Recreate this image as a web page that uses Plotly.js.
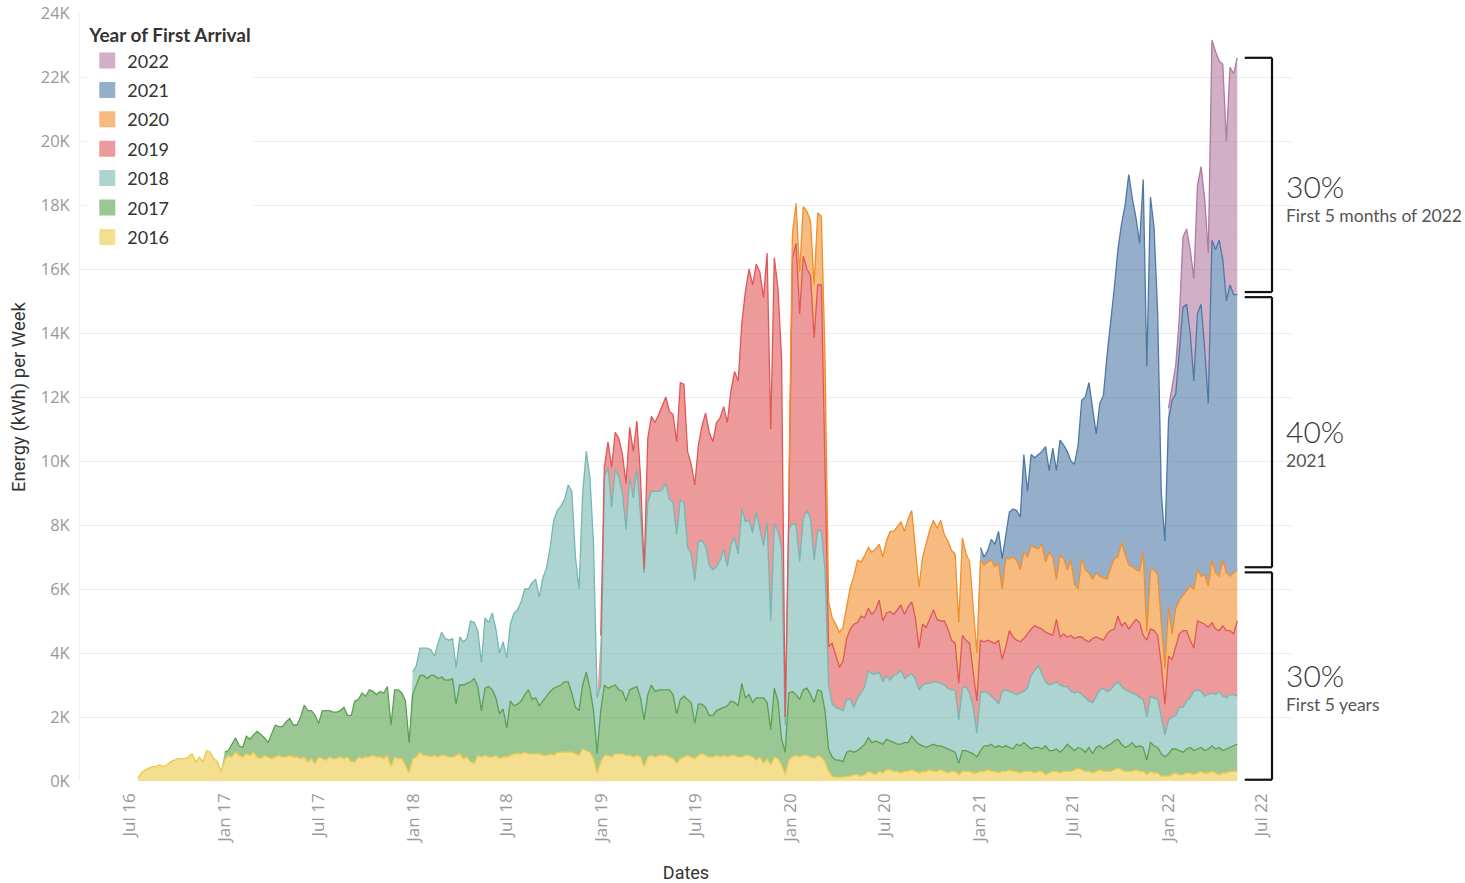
<!DOCTYPE html>
<html>
<head>
<meta charset="utf-8">
<script src="https://cdn.plot.ly/plotly-3.0.1.min.js"></script>
<style>
html,body{margin:0;padding:0;background:#fff;}
#chart{width:1465px;height:883px;}
</style>
</head>
<body>
<div id="chart"></div>
<script>
// ---- Data (weekly energy, thousands of kWh) ----
const firstWeek = '2016-07-17';
const weekCount = 305;
const seriesNames = ['2016', '2017', '2018', '2019', '2020', '2021', '2022'];
const startWeeks = [0, 24, 76, 128, 180, 233, 285];

const y2016 = [
  0.1,0.25,0.35,0.4,0.45,0.45,0.5,0.45,0.5,0.6,0.65,0.7,0.7,0.7,0.75,0.85,0.6,0.75,0.6,0.95,0.9,0.7,0.6,0.3,
  0.65,0.8,0.75,0.9,0.8,0.75,0.85,0.8,0.9,0.75, 0.7,0.8,0.75,0.7,0.75,0.8,0.75,0.75,0.8,0.75,
  0.75,0.7,0.75,0.6,0.7,0.55,0.75,0.7,0.65,0.75, 0.7,0.7,0.75,0.7,0.75,0.6,0.6,0.75,0.7,0.75,
  0.75,0.8,0.75,0.75,0.7,0.8,0.45,0.75,0.7,0.7, 0.5,0.25,
  0.7,0.75,0.9,0.8,0.8,0.75,0.8,0.75,0.8,0.8, 0.75,0.75,0.8,0.85,0.7,0.75,0.6,0.55,0.8,0.75,
  0.8,0.75,0.75,0.8,0.7,0.75,0.75,0.8,0.85,0.85, 0.85,0.9,0.85,0.85,0.85,0.85,0.8,0.8,0.85,0.8,
  0.9,0.9,0.9,0.9,0.9,0.85,0.8,1.0,0.95,0.9, 0.7,0.25,
  0.6,0.8,0.8,0.75,0.85,0.85,0.85,0.8,0.8,0.75, 0.8,0.75,0.45,0.75,0.8,0.75,0.8,0.8,0.8,0.75,
  0.7,0.55,0.7,0.75,0.8,0.75,0.7,0.8,0.85,0.8, 0.75,0.75,0.8,0.75,0.8,0.75,0.8,0.8,0.75,0.75,
  0.8,0.8,0.75,0.65,0.75,0.55,0.7,0.5,0.75,0.7, 0.5,0.2,
  0.65,0.75,0.8,0.75,0.8,0.8,0.75,0.7,0.8,0.75, 0.6,0.3,0.15,0.12,0.12,0.12,0.15,0.15,0.2,0.2,
  0.15,0.2,0.3,0.25,0.2,0.3,0.25,0.35,0.35,0.3, 0.3,0.25,0.3,0.3,0.35,0.3,0.25,0.3,0.3,0.35,
  0.3,0.3,0.35,0.3,0.25,0.3,0.3,0.2,0.3,0.3, 0.3,0.25,0.25,
  0.3,0.3,0.35,0.3,0.3,0.25,0.3,0.3,0.35,0.3, 0.3,0.25,0.3,0.3,0.3,0.25,0.3,0.3,0.2,0.25,
  0.3,0.3,0.25,0.3,0.3,0.3,0.35,0.4,0.35,0.3, 0.3,0.25,0.3,0.35,0.3,0.3,0.3,0.35,0.4,0.35,
  0.3,0.3,0.3,0.35,0.3,0.3,0.2,0.3,0.25,0.25, 0.15,0.15,
  0.15,0.2,0.25,0.2,0.2,0.25,0.25,0.2,0.25,0.3, 0.25,0.25,0.3,0.25,0.2,0.25,0.25,0.3,0.3,0.3
];
const y2017 = [
  0.25,0.15,0.4,0.45,0.3,0.3,0.55,0.5,0.55,0.8, 0.75,0.55,0.45,0.8,1.0,0.9,0.95,1.1,1.15,1.0,
  1.0,1.3,1.62,1.6,1.5,1.5,1.05,1.5,1.55,1.45, 1.45,1.45,1.45,1.6,1.3,1.45,1.9,1.8,2.05,1.9,
  2.1,2.0,1.95,2.05,2.05,2.15,1.3,2.1,2.15,2.05, 2.0,0.95,
  2.0,2.25,2.4,2.5,2.4,2.55,2.5,2.45,2.45,2.35, 2.4,2.45,1.6,2.15,2.3,2.3,2.5,2.65,2.15,1.45,
  2.1,2.2,2.1,1.8,1.4,1.5,0.9,1.7,1.5,1.55, 1.65,1.8,2.0,1.7,1.75,1.5,1.7,1.85,1.95,2.1,
  2.05,2.1,2.2,2.2,1.85,1.45,1.4,2.0,2.45,2.0, 1.5,0.6,
  1.6,2.2,2.1,2.2,2.15,2.0,1.95,1.7,2.05,2.15, 2.15,1.85,1.45,1.95,2.2,2.05,2.05,2.05,2.05,2.1,
  2.0,1.55,1.85,1.9,1.75,1.7,1.1,1.6,1.55,1.5, 1.3,1.3,1.4,1.5,1.5,1.6,1.7,1.65,1.6,2.3,
  1.8,1.9,1.7,1.95,1.85,2.05,1.75,1.1,2.15,1.8, 0.8,0.7,
  2.1,2.05,1.9,1.8,2.05,2.1,1.95,1.75,2.05,2.05, 1.6,0.7,0.6,0.53,0.53,0.48,0.75,0.8,0.7,0.75,
  0.9,0.95,1.05,0.95,1.05,0.9,0.9,0.95,0.9,0.9, 0.85,0.9,0.9,0.9,1.05,0.95,0.9,0.8,0.75,0.75,
  0.85,0.8,0.75,0.75,0.75,0.65,0.6,0.35,0.65,0.65, 0.6,0.6,0.5,
  0.65,0.8,0.75,0.85,0.75,0.85,0.75,0.8,0.7,0.7, 0.85,0.85,0.9,0.8,0.7,0.8,0.75,0.7,0.9,0.7,
  0.65,0.7,0.65,0.7,0.85,0.75,0.6,0.65,0.65,0.6, 0.75,0.6,0.75,0.75,0.7,0.8,0.85,0.9,0.9,0.8,
  0.75,0.8,0.9,0.7,0.8,0.75,0.45,0.9,0.85,0.8, 0.7,0.6,
  0.7,0.8,0.75,0.75,0.7,0.75,0.8,0.75,0.75,0.75, 0.7,0.75,0.8,0.75,0.85,0.7,0.75,0.75,0.8,0.85
];
const y2018 = [
  0.7,0.6,0.85,0.85,0.95,0.8,0.6,1.1,1.4,1.3, 1.25,1.25,1.15,1.5,1.35,1.4,1.9,1.75,1.75,1.5,
  2.2,2.0,2.4,2.15,1.9,2.1,2.2,2.4,2.9,2.95, 3.1,3.3,3.15,3.65,3.7,3.4,3.85,4.0,4.5,5.25,
  5.5,5.6,5.7,6.15,6.3,4.7,3.8,6.0,6.9,6.6, 5.2,1.75,
  0.8,6.5,6.9,5.6,6.75,6.65,6.2,5.35,6.65,5.95, 6.8,5.7,4.6,6.0,6.05,6.25,6.2,6.25,6.45,5.95,
  6.0,5.6,6.25,6.05,4.75,4.65,4.45,5.1,5.1,5.05, 4.7,4.55,4.5,4.65,4.95,4.35,4.9,5.15,4.75,5.45,
  5.5,5.45,5.3,5.8,5.3,4.75,5.65,3.4,5.15,5.3, 6.0,0.85,
  5.1,5.25,5.3,4.3,5.35,5.55,5.5,4.45,5.0,5.0, 4.4,2.0,1.65,1.65,1.6,1.6,1.65,1.6,1.4,1.65,
  1.7,1.8,2.1,2.15,2.1,2.2,1.95,2.0,1.9,2.1, 2.2,2.3,2.0,2.1,1.95,1.95,1.7,1.9,2.0,1.95,
  1.95,2.0,1.95,1.95,1.9,1.9,1.95,1.35,1.95,2.0, 1.85,1.45,0.75,
  1.8,1.7,1.65,1.5,1.5,1.3,1.75,1.75,1.75,1.75, 1.55,1.65,1.6,1.8,2.3,2.4,2.55,2.35,2.0,2.05,
  2.1,2.1,2.1,1.95,1.8,1.75,1.8,1.75,1.7,1.7, 1.45,1.6,1.6,1.75,1.9,1.7,1.7,1.75,1.8,1.8,
  1.8,1.7,1.55,1.65,1.5,1.5,1.35,1.45,1.5,1.5, 1.15,0.7,
  1.05,1.0,1.05,1.35,1.4,1.5,1.55,1.85,1.85,1.75, 1.7,1.7,1.65,1.7,1.75,1.7,1.6,1.65,1.6,1.5
];
const y2019 = [
  1.55,0.3,0.8,1.25,1.15,1.2,1.2,1.45,1.55,1.45, 1.5,1.2,0.1,2.0,2.35,2.15,2.4,2.6,2.7,2.75,
  2.75,2.9,3.65,3.7,3.0,2.8,3.0,3.0,3.6,4.15, 4.15,4.0,4.5,4.45,4.45,4.5,4.8,5.2,5.4,5.8,
  7.2,7.85,7.75,7.75,8.0,7.75,8.4,6.0,8.3,7.6, 5.9,0.25,
  0.65,8.3,8.8,7.75,8.2,7.55,7.6,6.95,7.65,7.7, 3.7,1.2,1.9,1.6,1.3,1.55,1.9,2.2,2.6,2.35,
  2.4,2.15,1.95,1.85,2.0,2.25,1.9,1.95,2.15,1.9, 2.0,2.05,2.0,2.15,2.25,1.9,1.3,1.9,1.75,2.05,
  2.25,1.95,1.95,2.0,1.85,1.55,1.45,1.15,1.65,1.45, 1.55,1.1,1.0,
  1.65,1.55,1.65,1.7,1.75,2.0,1.0,1.35,1.9,1.75, 1.7,1.6,1.65,1.7,1.45,1.4,1.2,1.4,1.55,1.6,
  1.5,1.95,1.5,1.65,1.55,1.75,1.7,1.7,1.8,1.8, 1.85,2.0,1.85,1.6,1.5,1.8,1.85,1.75,2.05,1.9,
  2.1,1.95,2.15,2.35,2.35,2.0,2.4,2.1,2.1,2.0, 1.65,0.95,
  2.0,1.8,2.15,2.3,2.4,2.2,1.8,1.35,2.15,2.15, 2.25,2.1,2.2,2.05,1.9,2.2,2.1,2.0,1.9,2.35
];
const y2020 = [
  0.5,0.75,1.25,1.3,1.55,1.8,1.7,1.65,2.25,2.15, 3.0,1.4,0.8,1.0,1.1,1.05,1.0,1.3,1.5,1.95,
  1.7,1.95,1.9,1.95,1.9,1.75,2.0,2.25,2.5,2.6, 2.6,2.6,2.6,2.75,2.85,2.2,1.9,2.1,2.6,2.75,
  2.8,2.85,3.15,2.7,2.75,2.8,2.8,1.9,3.05,2.7, 2.55,2.1,1.5,
  2.5,2.4,2.45,2.55,2.4,2.4,2.2,2.75,2.25,2.5, 2.5,2.25,2.7,2.4,2.6,2.45,2.45,2.65,2.2,2.55,
  2.45,1.25,2.55,2.35,2.1,2.35,1.7,1.5,2.45,2.2, 2.15,1.85,2.0,1.95,1.95,1.7,1.95,2.2,1.85,2.6,
  2.15,2.0,1.8,1.55,1.6,2.6,0.25,1.85,1.9,1.9, 1.3,1.1,
  1.55,0.8,1.2,1.05,1.1,1.25,1.7,1.85,1.6,1.45, 1.55,1.3,1.95,1.75,1.7,2.05,1.8,1.7,1.9,1.6
];
const y2021 = [
  0.4,0.25,0.35,0.65,0.7,1.0,0.95,0.8,1.45,1.5, 1.55,1.65,3.05,2.05,2.85,2.8,2.95,2.9,3.6,2.55,
  3.4,3.4,3.6,3.55,3.7,3.1,3.75,4.5,4.95,5.4, 5.95,5.3,4.35,5.4,5.7,7.0,7.65,8.45,9.6,9.95,
  10.9,12.2,11.5,11.0,10.25,11.65,8.3,11.65,10.7,8.15, 4.05,4.0,
  5.85,7.3,6.7,7.85,9.0,8.95,7.9,6.5,8.0,8.5, 7.05,5.7,10.0,10.1,10.5,9.4,8.5,9.1,8.7,8.6
];
const y2022 = [
  0.35,0.5,0.9,1.0,2.2,2.35,2.6,3.2,4.0,4.3, 4.7,4.7,6.25,6.2,5.6,6.1,5.0,6.8,6.9,7.4
];

const tickYears = ['16', '17', '18', '19', '20', '21', '22'];
const bracketLabels = ['30%', '40%', '30%'];
const bracketNotes = ['First 5 months of 2022', '2021', 'First 5 years'];

// ---- Styling ----
const baseColors = ['#edc948', '#59a14f', '#76b7b2', '#e15759', '#f28e2b', '#4e79a7', '#b07aa1'];
function rgba(hex, a) {
  const n = parseInt(hex.slice(1), 16);
  return 'rgba(' + ((n >> 16) & 255) + ',' + ((n >> 8) & 255) + ',' + (n & 255) + ',' + a + ')';
}

const allSeries = [y2016, y2017, y2018, y2019, y2020, y2021, y2022];

function weekDate(i) {
  const d = new Date(firstWeek + 'T00:00:00Z');
  d.setUTCDate(d.getUTCDate() + 7 * i);
  return d.toISOString().slice(0, 10);
}
const dates = [];
for (let i = 0; i < weekCount; i++) dates.push(weekDate(i));

// cumulative stacks
const cum = [];
for (let k = 0; k < allSeries.length; k++) {
  const arr = [];
  for (let i = 0; i < weekCount; i++) {
    const j = i - startWeeks[k];
    const v = (j >= 0 && j < allSeries[k].length) ? allSeries[k][j] : 0;
    arr.push((k > 0 ? cum[k - 1][i] : 0) + v);
  }
  cum.push(arr);
}

const traces = [];
// fills
for (let k = 0; k < allSeries.length; k++) {
  traces.push({
    type: 'scatter', mode: 'lines', x: dates, y: cum[k],
    fill: k === 0 ? 'tozeroy' : 'tonexty',
    fillcolor: rgba(baseColors[k], 0.6),
    line: {width: 0, color: baseColors[k]},
    showlegend: false, hoverinfo: 'skip'
  });
}
// outlines
for (let k = 0; k < allSeries.length; k++) {
  traces.push({
    type: 'scatter', mode: 'lines',
    x: dates.slice(startWeeks[k]), y: cum[k].slice(startWeeks[k]),
    line: {width: 1.3, color: baseColors[k]},
    showlegend: false, hoverinfo: 'skip'
  });
}
// legend entries (newest first)
for (let k = allSeries.length - 1; k >= 0; k--) {
  traces.push({
    type: 'scatter', mode: 'markers', x: [null], y: [null],
    name: seriesNames[k], legendgroup: seriesNames[k],
    marker: {symbol: 'square', size: 16, color: rgba(baseColors[k], 0.6)},
    showlegend: true, hoverinfo: 'skip'
  });
}

// x ticks
const tickvals = [], ticktext = [];
for (let y = 0; y < tickYears.length; y++) {
  const yr = 2000 + parseInt(tickYears[y], 10);
  if (y > 0) { tickvals.push(yr + '-01-01'); ticktext.push('Jan ' + tickYears[y]); }
  tickvals.push(yr + '-07-01'); ticktext.push('Jul ' + tickYears[y]);
}

// brackets from the end-of-series stack
const last = weekCount - 1;
const topAll = cum[6][last];
const sep1 = cum[5][last];
const sep2 = cum[4][last];
const gap = 0.08;
const bx1 = 0.961, bx2 = 0.9835;
const segs = [[sep1 + gap, topAll], [sep2 + gap, sep1 - gap], [0.04, sep2 - gap]];
const shapes = [];
const annotations = [];
segs.forEach((s, idx) => {
  const ln = {color: '#111', width: 2.2};
  shapes.push({type: 'line', xref: 'paper', yref: 'y', x0: bx2, x1: bx2, y0: s[0], y1: s[1], line: ln});
  shapes.push({type: 'line', xref: 'paper', yref: 'y', x0: bx1, x1: bx2, y0: s[0], y1: s[0], line: ln});
  shapes.push({type: 'line', xref: 'paper', yref: 'y', x0: bx1, x1: bx2, y0: s[1], y1: s[1], line: ln});
  const mid = (s[0] + s[1]) / 2;
  annotations.push({xref: 'paper', yref: 'y', x: 0.9935, y: mid, xanchor: 'left', yanchor: 'middle',
    yshift: idx === 0 ? -11 : 1, showarrow: false, text: bracketLabels[idx],
    font: {family: 'Lato, Open Sans, sans-serif', size: 30, color: '#3a3a3a', weight: 300}});
  annotations.push({xref: 'paper', yref: 'y', x: 0.9935, y: mid, xanchor: 'left', yanchor: 'top',
    yshift: idx === 0 ? -28 : -16, showarrow: false, text: bracketNotes[idx],
    font: {family: 'Lato, Open Sans, sans-serif', size: 17.5, color: '#555'}});
});

const layout = {
  width: 1465, height: 883,
  margin: {l: 80, r: 173, t: 13, b: 102},
  paper_bgcolor: '#fff', plot_bgcolor: '#fff',
  showlegend: true,
  legend: {
    x: 0.006, y: 0.994, xanchor: 'left', yanchor: 'top',
    bgcolor: '#fff', borderwidth: 0,
    traceorder: 'grouped', tracegroupgap: 3,
    title: {text: '<b>Year of First Arrival</b>', font: {family: 'Lato, Open Sans, sans-serif', size: 19, color: '#333'}},
    font: {family: 'Lato, Open Sans, sans-serif', size: 18, color: '#333'}
  },
  xaxis: {
    type: 'date', range: ['2016-03-27', '2022-08-29'],
    tickvals: tickvals, ticktext: ticktext, tickangle: -90,
    showgrid: false, zeroline: false, showline: false, ticks: '',
    ticklabelstandoff: 8,
    tickfont: {family: 'Open Sans, sans-serif', size: 17, color: '#999'},
    title: {text: 'Dates', standoff: 28, font: {family: 'Liberation Sans Narrow, Roboto, sans-serif', size: 18, color: '#333'}}
  },
  yaxis: {
    range: [0, 24], dtick: 2, tick0: 0, ticksuffix: 'K',
    showgrid: true, gridcolor: '#ececec', gridwidth: 1, zeroline: false,
    showline: true, linecolor: '#f0f0f0', ticks: '',
    ticklabelstandoff: 6,
    tickfont: {family: 'Open Sans, sans-serif', size: 16.5, color: '#999'},
    title: {text: 'Energy (kWh) per Week', standoff: 10, font: {family: 'Liberation Sans Narrow, Roboto, sans-serif', size: 18.5, color: '#333'}}
  },
  shapes: shapes,
  annotations: annotations
};

Plotly.newPlot('chart', traces, layout, {displayModeBar: false, staticPlot: true});
</script>
</body>
</html>
